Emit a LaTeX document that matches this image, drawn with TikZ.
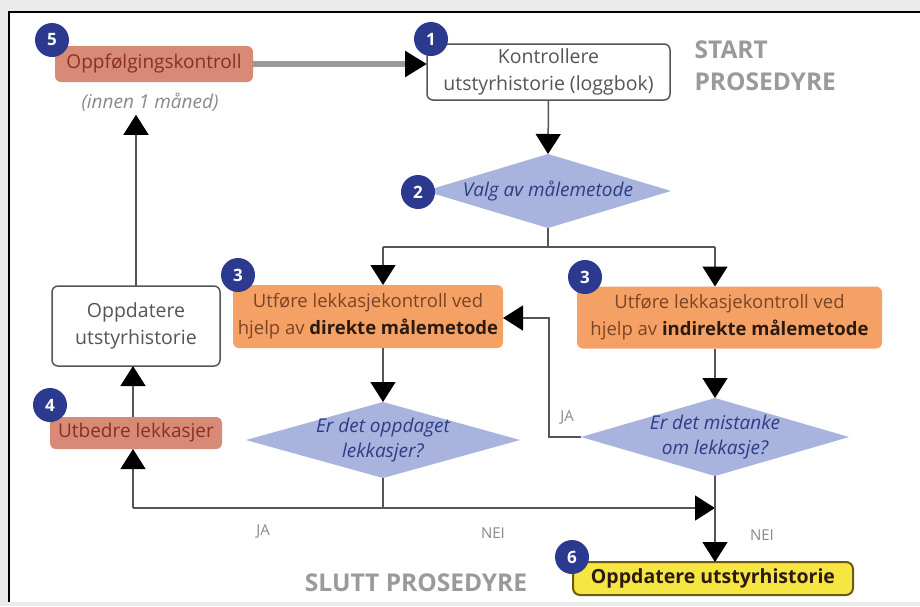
\documentclass[tikz,border=0pt]{standalone}
\usepackage{fontspec}
\setmainfont{Open Sans}
\usetikzlibrary{arrows.meta,shapes.geometric}
\definecolor{bg}{HTML}{EBEBEB}
\definecolor{navy}{HTML}{2B3A8F}
\definecolor{salmon}{HTML}{D98A76}
\definecolor{darkred}{HTML}{8B3020}
\definecolor{orangefill}{HTML}{F5A165}
\definecolor{browntxt}{HTML}{7A4526}
\definecolor{boldtxt}{HTML}{2B1A10}
\definecolor{lav}{HTML}{A8B3DE}
\definecolor{diatxt}{HTML}{2E3D85}
\definecolor{boxgray}{HTML}{555555}
\definecolor{txtgray}{HTML}{555555}
\definecolor{linegray}{HTML}{555555}
\definecolor{lblgray}{HTML}{8A8A8A}
\definecolor{titlegray}{HTML}{9A9A9A}
\definecolor{yel}{HTML}{F5E642}
\definecolor{yelborder}{HTML}{6B5A10}
\definecolor{thickgray}{HTML}{9A9A9A}
\begin{document}
\begin{tikzpicture}[x=1pt,y=-1pt,
  circ/.style={circle, fill=navy, text=white, font=\bfseries\fontsize{17}{17}\selectfont, minimum size=34pt, inner sep=0pt},
  wbox/.style={draw=boxgray, line width=1.5pt, rounded corners=6pt, fill=white, align=center, text=txtgray, font=\fontsize{19.5}{27}\selectfont, inner sep=0pt, outer sep=0pt},
  rbox/.style={fill=salmon, rounded corners=6pt, text=darkred, font=\fontsize{19}{20}\selectfont, inner sep=0pt, outer sep=0pt},
  obox/.style={fill=orangefill, rounded corners=6pt, text=browntxt, align=center, font=\fontsize{18.5}{27}\selectfont, inner sep=0pt, outer sep=0pt},
  dia/.style={diamond, fill=lav, inner sep=0pt, outer sep=0pt},
  diatext/.style={text=diatxt, align=center, font=\itshape\fontsize{19}{25}\selectfont},
  ybox/.style={fill=yel, draw=yelborder, line width=2pt, rounded corners=7pt, text=boldtxt, font=\bfseries\fontsize{19.5}{20}\selectfont, inner sep=0pt, outer sep=0pt},
  lbl/.style={text=lblgray, font=\fontsize{15}{15}\selectfont},
  ttl/.style={text=titlegray, font=\bfseries\fontsize{24.5}{32}\selectfont},
  conn/.style={draw=linegray, line width=1.5pt},
  arr/.style={conn, -{Triangle[length=20pt,width=25pt,color=black]}}
]
\useasboundingbox (0,0) rectangle (920,606);
\fill[bg] (0,0) rectangle (920,606);
\fill[white] (9,12) rectangle (920,602);
\draw[line width=2pt, black] (9,602) -- (9,12) -- (920,12);

% nodes
\node[rbox, minimum width=198pt, minimum height=36pt] (o5) at (154,64) {Oppfølgingskontroll};
\node[text=lblgray, font=\itshape\fontsize{19}{19}\selectfont] (innen) at (150,102) {(innen 1 måned)};
\node[wbox, minimum width=243pt, minimum height=56pt] (b1) at (548.5,72) {Kontrollere\\utstyrhistorie (loggbok)};
\node[ttl, align=left, anchor=north west] (start) at (691,37) {START\\PROSEDYRE};
\node[dia, minimum width=246pt, minimum height=74pt] (d2) at (548,191) {};
\node[diatext] (d2t) at (d2) {Valg av målemetode};
\node[obox, minimum width=270pt, minimum height=63pt] (b3L) at (368,316.5) {Utføre lekkasjekontroll ved\\hjelp av \textcolor{boldtxt}{\bfseries direkte målemetode}};
\node[obox, minimum width=305pt, minimum height=62pt] (b3R) at (729.5,317.5) {Utføre lekkasjekontroll ved\\hjelp av \textcolor{boldtxt}{\bfseries indirekte målemetode}};
\node[dia, minimum width=274pt, minimum height=76pt] (dL) at (383,440) {};
\node[diatext] (dLt) at (dL) {Er det oppdaget\\lekkasjer?};
\node[dia, minimum width=268pt, minimum height=78pt] (dR) at (715,437) {};
\node[diatext] (dRt) at (dR) {Er det mistanke\\om lekkasje?};
\node[rbox, minimum width=172pt, minimum height=32pt] (utb) at (136,433) {Utbedre lekkasjer};
\node[wbox, minimum width=168pt, minimum height=80pt] (oppd) at (136,326) {Oppdatere\\utstyrhistorie};
\node[ybox, minimum width=280pt, minimum height=33pt] (yel) at (713,578.5) {Oppdatere utstyrhistorie};
\node[ttl] (slutt) at (416,583) {SLUTT PROSEDYRE};

\node[lbl] (ja1) at (567,418) {JA};
\node[lbl] (ja2) at (263,532) {JA};
\node[lbl] (nei1) at (493,533) {NEI};
\node[lbl] (nei2) at (762,535) {NEI};

% coordinates
\coordinate (brL) at (383,247);
\coordinate (brR) at (715,247);
\coordinate (jloop) at (549,318);
\coordinate (bl) at (133,508);

% connectors
\draw[line width=6pt, draw=thickgray, -{Triangle[length=22pt,width=25pt,color=black]}] (o5.east) -- (o5.east -| b1.west);
\draw[arr] (b1.south) -- (d2.north);
\draw[conn] (d2.south) -- (d2.south |- brL);
\draw[conn] (brL) -- (brR);
\draw[arr] (brL) -- (brL |- b3L.north);
\draw[arr] (brR) -- (brR |- b3R.north);
\draw[arr] (b3L.south -| dL.north) -- (dL.north);
\draw[arr] (b3R.south -| dR.north) -- (dR.north);
\draw[arr] (dR.west) -| (jloop) -- (jloop -| b3L.east);
\draw[conn] (dL.south) -- (dL.south |- bl);
\draw[arr] (bl) -- (bl -| dR.south);
\draw[arr] (bl) -- (bl |- utb.south);
\draw[arr] (dR.south) -- (dR.south |- yel.north);
\draw[arr] (utb.north -| bl) -- (oppd.south -| bl);
\draw[arr] (oppd.north) -- (oppd.north |- innen.south);

% numbered circles
\node[circ] (c5) at (52,40) {5};
\node[circ] (c1) at (431,39) {1};
\node[circ] (c2) at (418,192) {2};
\node[circ] (c3L) at (238,275) {3};
\node[circ] (c3R) at (585,277) {3};
\node[circ] (c4) at (50,405) {4};
\node[circ] (c6) at (572,557) {6};
\end{tikzpicture}
\end{document}
